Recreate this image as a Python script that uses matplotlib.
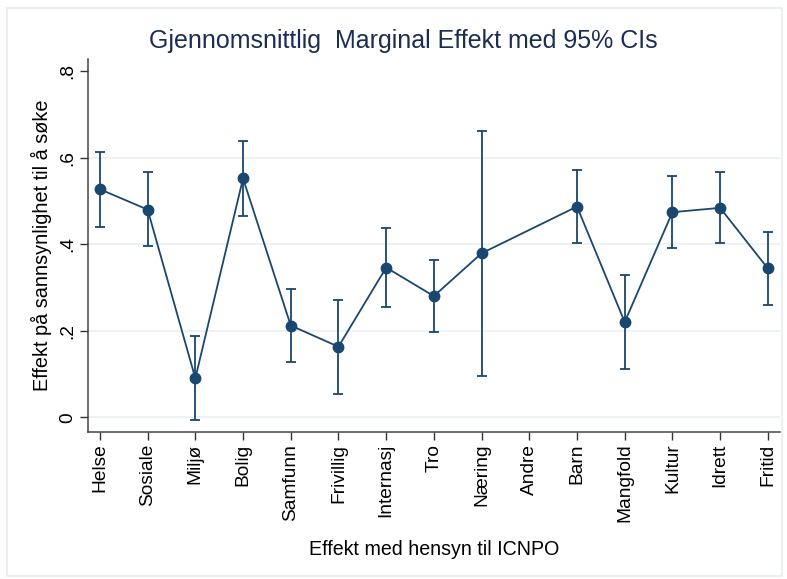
import matplotlib
matplotlib.use("Agg")
import matplotlib.pyplot as plt
import numpy as np
from matplotlib.patches import Rectangle

# kategorier (ICNPO) og marginale effekter med 95% KI
categories = ['Helse', 'Sosiale', 'Miljø', 'Bolig', 'Samfunn', 'Frivillig', 'Internasj',
              'Tro', 'Næring', 'Andre', 'Barn', 'Mangfold', 'Kultur', 'Idrett', 'Fritid']
effect = [0.527, 0.480, 0.090, 0.552, 0.212, 0.163, 0.346,
          0.280, 0.379, np.nan, 0.487, 0.220, 0.474, 0.484, 0.344]
ci_low = [0.439, 0.396, -0.007, 0.466, 0.128, 0.054, 0.254,
          0.196, 0.096, np.nan, 0.402, 0.112, 0.391, 0.402, 0.260]
ci_high = [0.613, 0.566, 0.188, 0.638, 0.297, 0.272, 0.438,
           0.364, 0.662, np.nan, 0.571, 0.329, 0.557, 0.568, 0.428]
yticks = [0, 0.2, 0.4, 0.6, 0.8]
ytick_labels = ['0', '.2', '.4', '.6', '.8']

navy = '#1a476f'
plt.rcParams['font.family'] = ['Liberation Sans', 'DejaVu Sans']

x = np.arange(1, len(categories) + 1)
eff = np.array(effect, dtype=float)
lo = np.array(ci_low, dtype=float)
hi = np.array(ci_high, dtype=float)
ok = ~np.isnan(eff)  # "Andre" mangler estimat

fig = plt.figure(figsize=(7.87, 5.79), dpi=100)
ax = fig.add_axes([0.1118, 0.254, 0.879, 0.644])

# svak ramme rundt hele grafen (Stata-stil)
fig.patches.append(Rectangle((0.009, 0.005), 0.985, 0.982, transform=fig.transFigure,
                             fill=False, edgecolor='#e6edf0', linewidth=1.2))

for yv in yticks[:-1]:
    ax.axhline(yv, color='#eaf1f3', linewidth=1.2, zorder=0)

ax.errorbar(x[ok], eff[ok], yerr=[eff[ok] - lo[ok], hi[ok] - eff[ok]], fmt='none',
            ecolor=navy, elinewidth=1.3, capsize=3.4, capthick=1.3, zorder=2)
ax.plot(x[ok], eff[ok], color=navy, linewidth=1.3, marker='o', markersize=7.5, zorder=3)

ax.set_xlim(0.75, 15.25)
ax.set_ylim(-0.034, 0.828)
ax.set_xticks(x)
ax.set_xticklabels(categories, rotation=90, fontsize=13.8)
ax.set_yticks(yticks)
ax.set_yticklabels(ytick_labels, rotation=90, va='center', fontsize=13.8)
ax.tick_params(direction='out', length=5.5, width=1, color='#333333', pad=3)

ax.spines['top'].set_visible(False)
ax.spines['right'].set_visible(False)
for s in ['left', 'bottom']:
    ax.spines[s].set_color('#444444')
    ax.spines[s].set_linewidth(1.1)

ax.set_ylabel('Effekt på sannsynlighet til å søke', fontsize=14.3, labelpad=5)
ax.set_xlabel('Effekt med hensyn til ICNPO', fontsize=14.1, labelpad=13)
fig.text(0.513, 0.9166, 'Gjennomsnittlig  Marginal Effekt med 95% CIs', ha='center',
         va='baseline', fontsize=18, color='#1c2d52')

fig.savefig('out.png', dpi=100)
